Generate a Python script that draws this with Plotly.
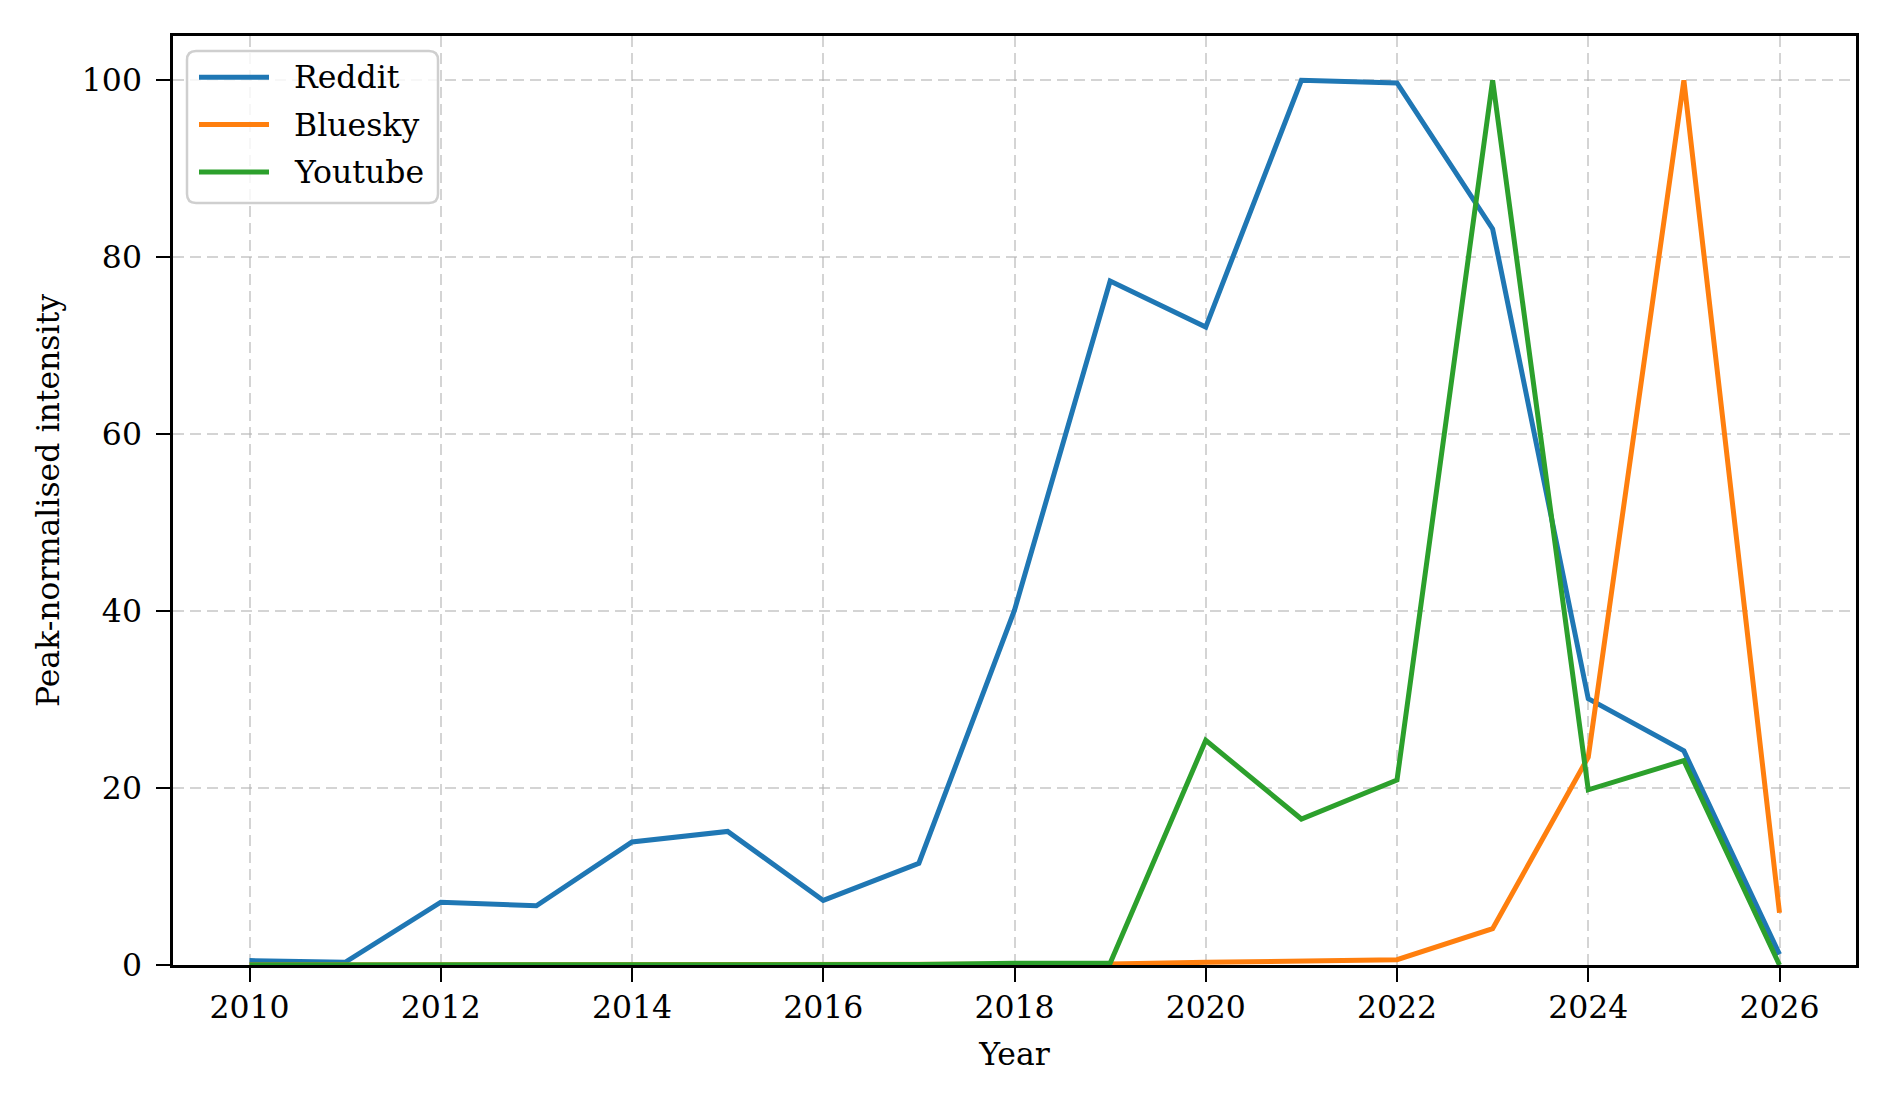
import plotly.graph_objects as go

years = list(range(2010, 2027))
reddit = [0.5, 0.3, 7.1, 6.7, 13.9, 15.1, 7.3, 11.5, 40.1, 77.3, 72.1, 100.0, 99.7, 83.2, 30.1, 24.2, 1.2]
bluesky = [0.0, 0.0, 0.0, 0.0, 0.0, 0.0, 0.0, 0.0, 0.0, 0.1, 0.3, 0.45, 0.6, 4.1, 23.5, 100.0, 5.9]
youtube = [0.0, 0.0, 0.0, 0.0, 0.0, 0.0, 0.0, 0.05, 0.2, 0.2, 25.4, 16.5, 20.9, 100.0, 19.8, 23.1, 0.0]

series_names = ["Reddit", "Bluesky", "Youtube"]
series_values = [reddit, bluesky, youtube]
colors = ["#1f77b4", "#ff7f0e", "#2ca02c"]

x_ticks = list(range(2010, 2027, 2))
y_ticks = [0, 20, 40, 60, 80, 100]

FONT = "DejaVu Serif"
FS = 31.5
LW = 5
W, H = 1892, 1106
ML, MR, MT, MB = 173, 36, 36, 141
PW, PH = W - ML - MR, H - MT - MB


def px(xp):
    return (xp - ML) / PW


def py(yp):
    return 1 - (yp - MT) / PH


fig = go.Figure()
for name, vals, col in zip(series_names, series_values, colors):
    fig.add_trace(go.Scatter(x=years, y=vals, mode="lines", name=name,
                             line=dict(color=col, width=LW), showlegend=False))

axis_common = dict(
    showline=True, linecolor="black", linewidth=2.5, mirror=True,
    ticks="outside", ticklen=14, tickwidth=2, tickcolor="black",
    showgrid=True, gridcolor="rgba(176,176,176,0.55)", gridwidth=2, griddash="11px,6px",
    zeroline=False, tickfont=dict(family=FONT, size=FS, color="black"),
)

# legend (drawn manually to match the box style)
bx0, bx1, by0, by1, r = 187, 438, 51, 203, 9
path = (f"M{px(bx0 + r)},{py(by0)} L{px(bx1 - r)},{py(by0)} "
        f"Q{px(bx1)},{py(by0)} {px(bx1)},{py(by0 + r)} "
        f"L{px(bx1)},{py(by1 - r)} Q{px(bx1)},{py(by1)} {px(bx1 - r)},{py(by1)} "
        f"L{px(bx0 + r)},{py(by1)} Q{px(bx0)},{py(by1)} {px(bx0)},{py(by1 - r)} "
        f"L{px(bx0)},{py(by0 + r)} Q{px(bx0)},{py(by0)} {px(bx0 + r)},{py(by0)} Z")
shapes = [dict(type="path", xref="paper", yref="paper", path=path,
               fillcolor="rgba(255,255,255,0.8)", line=dict(color="#cfcfcf", width=2.5))]
annotations = []
row_y0, row_dy = 77.3, 47.3
for i, (name, col) in enumerate(zip(series_names, colors)):
    ry = row_y0 + i * row_dy
    shapes.append(dict(type="line", xref="paper", yref="paper",
                       x0=px(199), x1=px(269), y0=py(ry), y1=py(ry),
                       line=dict(color=col, width=LW)))
    annotations.append(dict(xref="paper", yref="paper", x=px(292), y=py(ry),
                            xanchor="left", yanchor="middle", showarrow=False,
                            text=name, font=dict(family=FONT, size=FS, color="black")))

fig.update_layout(
    width=W, height=H,
    margin=dict(l=ML, r=MR, t=MT, b=MB),
    paper_bgcolor="white", plot_bgcolor="white",
    font=dict(family=FONT, size=FS, color="black"),
    xaxis=dict(range=[2009.2, 2026.8], tickvals=x_ticks, ticklabelstandoff=-2,
               title=dict(text="Year", font=dict(family=FONT, size=FS), standoff=20),
               **axis_common),
    yaxis=dict(range=[0, 105], tickvals=y_ticks, ticklabelstandoff=8,
               title=dict(text="Peak-normalised intensity", font=dict(family=FONT, size=FS), standoff=13),
               **axis_common),
    shapes=shapes,
    annotations=annotations,
    showlegend=False,
)

fig.write_html("out.html")
